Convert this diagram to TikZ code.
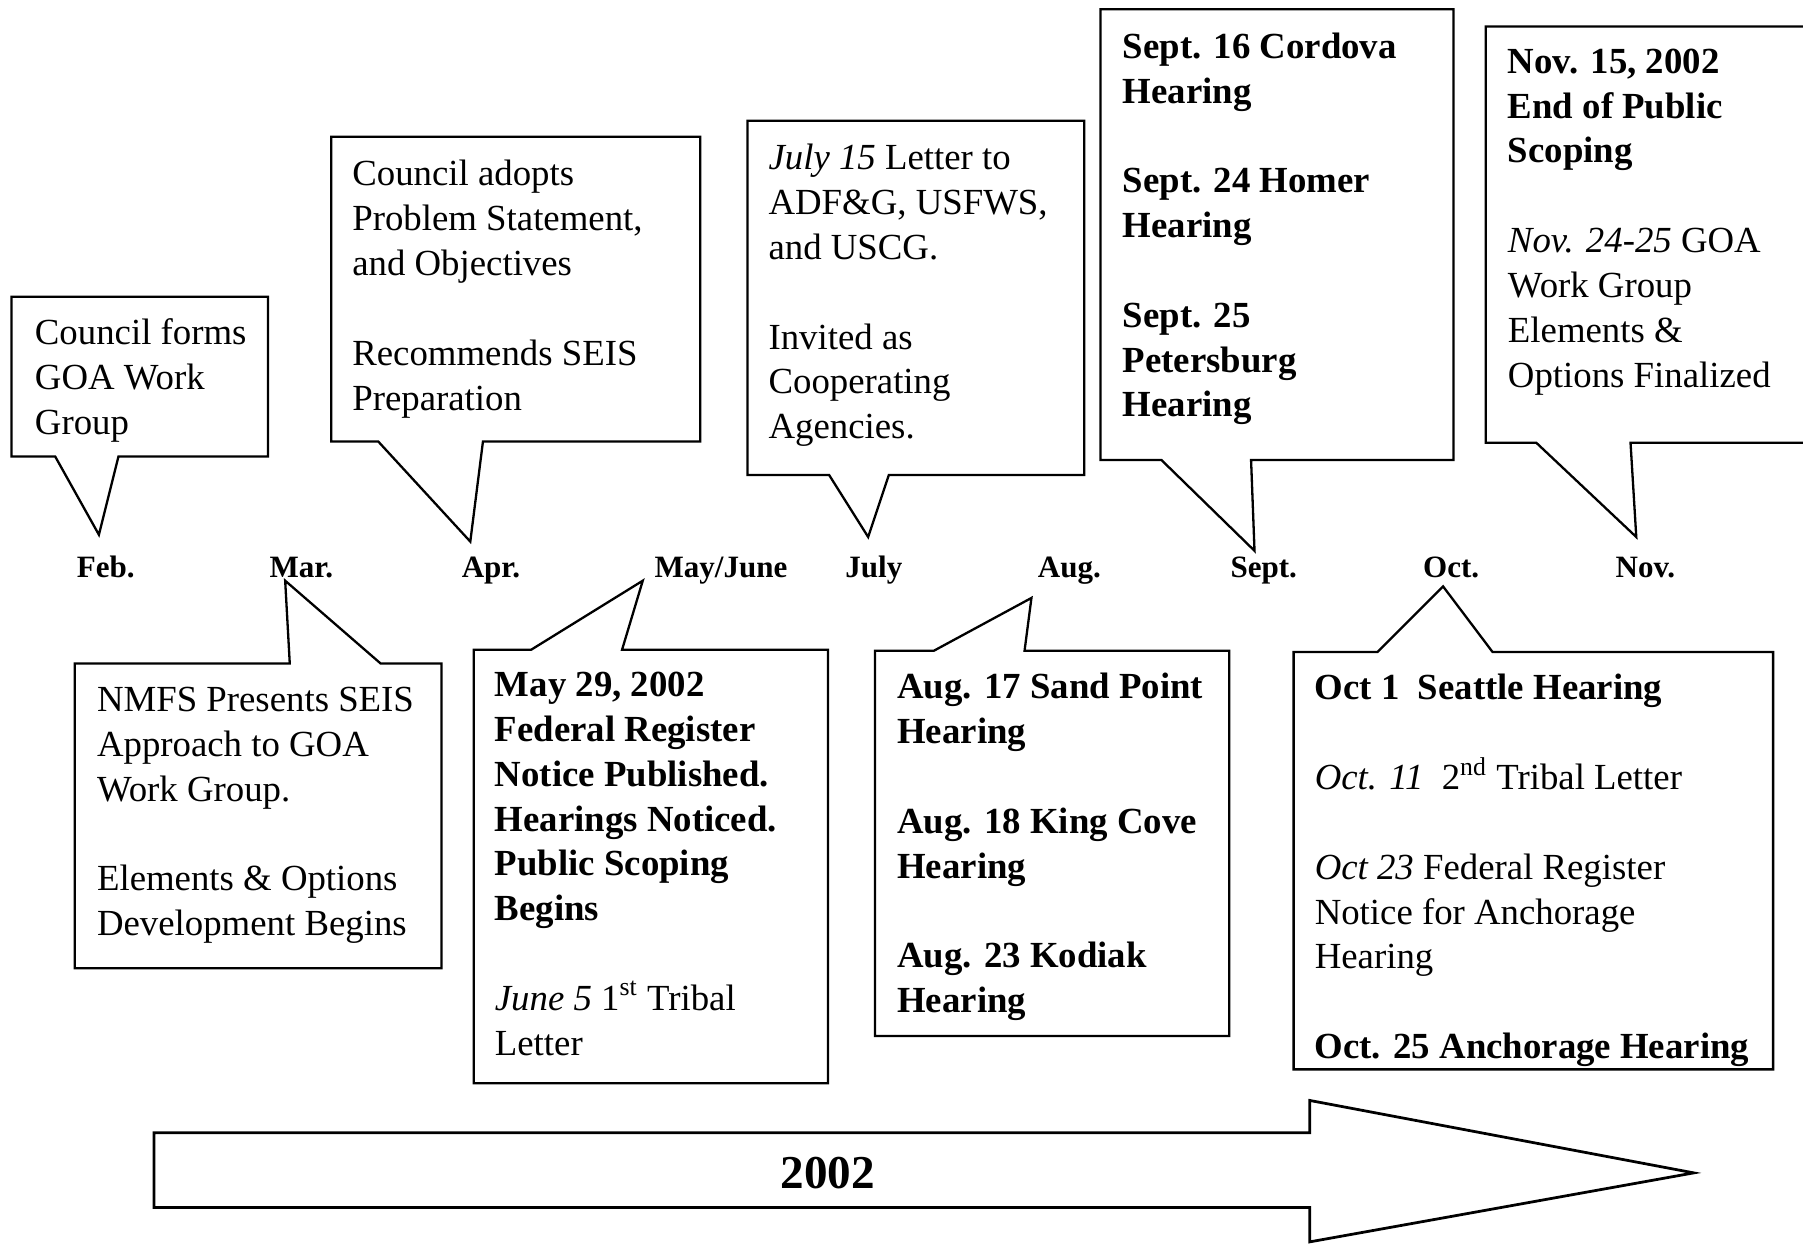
\documentclass[tikz,border=0pt]{standalone}
\usepackage{fontspec}
\setmainfont{Liberation Serif}
\begin{document}
\begin{tikzpicture}[x=0.5pt,y=-0.5pt,
  callout/.style={draw=black, line width=1pt, fill=white, line join=miter},
  boxtext/.style={anchor=north west, inner sep=0pt, align=left, font=\fontsize{16}{19.5}\selectfont},
  month/.style={anchor=base, inner sep=0pt, font=\fontsize{13.5}{16}\selectfont\bfseries},
  bigarrow/.style={draw=black, line width=1.2pt, fill=white, line join=miter},
]
\useasboundingbox (0,0) rectangle (1568,1082);
\fill[white] (0,0) rectangle (1568,1082);

% callout tips
\coordinate (tA) at (86,465);
\coordinate (tB) at (409,471);
\coordinate (tC) at (755,467);
\coordinate (tD) at (1091,479);
\coordinate (tE) at (1423,467);
\coordinate (tF) at (248,505);
\coordinate (tG) at (559,505);
\coordinate (tH) at (897,520);
\coordinate (tI) at (1255,510);

% upper callouts
\draw[callout] (10,258) -- (233,258) -- (233,397) -- (103,397) -- (tA) -- (48,397) -- (10,397) -- cycle;
\draw[callout] (288,119) -- (609,119) -- (609,384) -- (420,384) -- (tB) -- (329,384) -- (288,384) -- cycle;
\draw[callout] (650,105) -- (943,105) -- (943,413) -- (773,413) -- (tC) -- (721,413) -- (650,413) -- cycle;
\draw[callout] (957,8) -- (1264,8) -- (1264,400) -- (1088,400) -- (tD) -- (1010,400) -- (957,400) -- cycle;
\begin{scope}
\clip (0,0) rectangle (1568,1082);
\draw[callout] (1292,23) -- (1580,23) -- (1580,385) -- (1418,385) -- (tE) -- (1336,385) -- (1292,385) -- cycle;
\end{scope}

% lower callouts
\draw[callout] (65,577) -- (252,577) -- (tF) -- (331,577) -- (384,577) -- (384,842) -- (65,842) -- cycle;
\draw[callout] (412,565) -- (462,565) -- (tG) -- (541,565) -- (720,565) -- (720,942) -- (412,942) -- cycle;
\draw[callout] (761,566) -- (812,566) -- (tH) -- (891,566) -- (1069,566) -- (1069,901) -- (761,901) -- cycle;
\draw[callout] (1125,567) -- (1198,567) -- (tI) -- (1298,567) -- (1542,567) -- (1542,930) -- (1125,930) -- cycle;

% month labels
\node[month] (feb)  at (92,502)   {Feb.};
\node[month] (mar)  at (262,502)  {Mar.};
\node[month] (apr)  at (427,502)  {Apr.};
\node[month] (may)  at (627,502)  {May/June};
\node[month] (jul)  at (760,502)  {July};
\node[month] (aug)  at (930,502)  {Aug.};
\node[month] (sep)  at (1099,502) {Sept.};
\node[month] (oct)  at (1262,502) {Oct.};
\node[month] (nov)  at (1431,502) {Nov.};

% texts
\node[boxtext] (txtA) at (30,277) {Council forms\\GOA Work\\Group};
\node[boxtext] (txtB) at (306,139) {Council adopts\\Problem Statement,\\and Objectives\\[19.5pt]Recommends SEIS\\Preparation};
\node[boxtext] (txtC) at (668,125) {\textit{July 15} Letter to\\ADF\&G, USFWS,\\and USCG.\\[19.5pt]Invited as\\Cooperating\\Agencies.};
\node[boxtext] (txtD) at (976,28) {\textbf{Sept. 16 Cordova}\\\textbf{Hearing}\\[19.5pt]\textbf{Sept. 24 Homer}\\\textbf{Hearing}\\[19.5pt]\textbf{Sept. 25}\\\textbf{Petersburg}\\\textbf{Hearing}};
\node[boxtext] (txtE) at (1311,42) {\textbf{Nov. 15, 2002}\\\textbf{End of Public}\\\textbf{Scoping}\\[19.5pt]\textit{Nov. 24-25} GOA\\Work Group\\Elements \&\\Options Finalized};
\node[boxtext] (txtF) at (84,597) {NMFS Presents SEIS\\Approach to GOA\\Work Group.\\[19.5pt]Elements \& Options\\Development Begins};
\node[boxtext] (txtG) at (430,584) {\textbf{May 29, 2002}\\\textbf{Federal Register}\\\textbf{Notice Published.}\\\textbf{Hearings Noticed.}\\\textbf{Public Scoping}\\\textbf{Begins}\\[19.5pt]\textit{June 5} 1\textsuperscript{st} Tribal\\Letter};
\node[boxtext] (txtH) at (780,585) {\textbf{Aug. 17 Sand Point}\\\textbf{Hearing}\\[19.5pt]\textbf{Aug. 18 King Cove}\\\textbf{Hearing}\\[19.5pt]\textbf{Aug. 23 Kodiak}\\\textbf{Hearing}};
\node[boxtext] (txtI) at (1143,586) {\textbf{Oct 1\ \ Seattle Hearing}\\[19.5pt]\textit{Oct. 11}\ \ 2\textsuperscript{nd} Tribal Letter\\[19.5pt]\textit{Oct 23} Federal Register\\Notice for Anchorage\\Hearing\\[19.5pt]\textbf{Oct. 25 Anchorage Hearing}};

% big arrow
\draw[bigarrow] (134,985) -- (1139,985) -- (1139,957) -- (1473,1020) -- (1139,1080) -- (1139,1050) -- (134,1050) -- cycle;
\node[inner sep=0pt, font=\fontsize{20.5}{24}\selectfont\bfseries] (year) at (720,1020) {2002};
\end{tikzpicture}
\end{document}
